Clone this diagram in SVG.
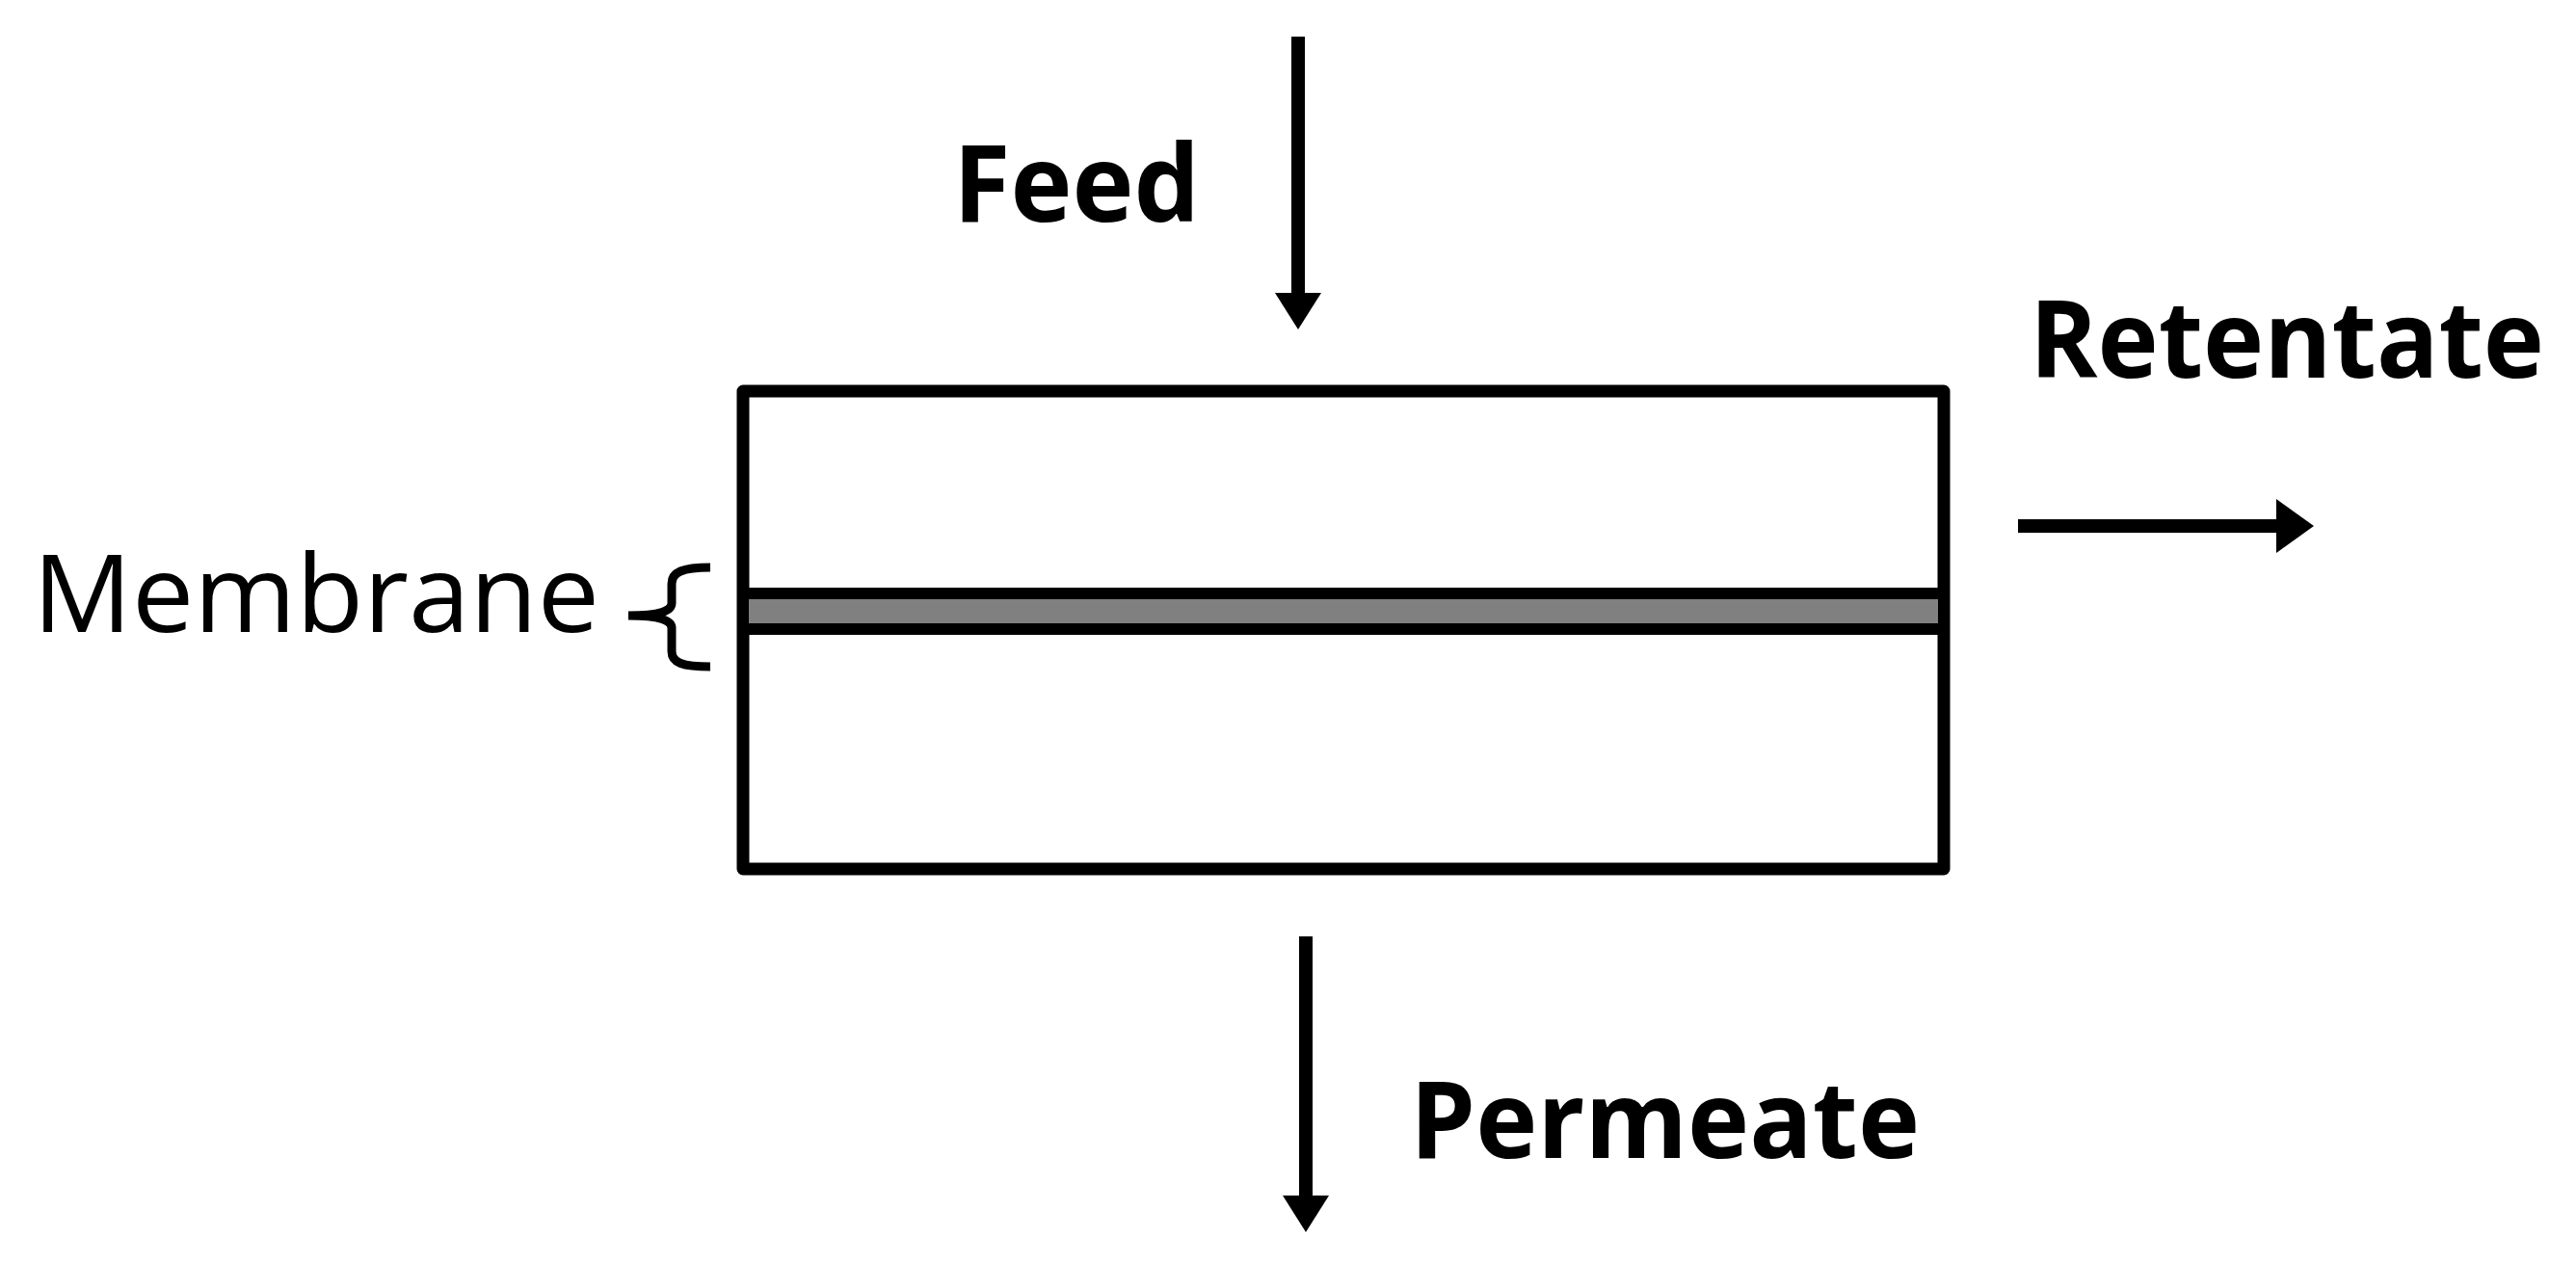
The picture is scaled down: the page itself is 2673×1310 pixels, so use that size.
<svg xmlns="http://www.w3.org/2000/svg" width="2673" height="1310" viewBox="0 0 2673 1310">
<style>
.lb{font-family:"Open Sans","Liberation Sans",sans-serif;font-weight:bold;font-size:112px;fill:#000}
.lr{font-family:"Open Sans","Liberation Sans",sans-serif;font-size:112px;fill:#000}
.sh{stroke:#000;stroke-width:14;fill:none}
</style>
<rect width="2673" height="1310" fill="#fff"/>
<g id="module">
<rect x="771" y="406" width="1246" height="496" fill="#fff" stroke="#000" stroke-width="13" stroke-linejoin="round"/>
</g>
<g id="membrane">
<rect x="771" y="616" width="1246" height="37" fill="#808080" stroke="#000" stroke-width="12"/>
<path d="M737,589 C708,589 697,594 697,606 L697,626 C697,634 685,639 652,639 C685,639 697,644 697,652 L697,676 C697,688 708,692 737,692" fill="none" stroke="#000" stroke-width="9"/>
<text class="lr" x="34" y="656" textLength="588" lengthAdjust="spacingAndGlyphs">Membrane</text>
</g>
<g id="labels">
<text class="lb" x="989" y="230" textLength="256" lengthAdjust="spacingAndGlyphs">Feed</text>
<text class="lb" x="2106" y="392" textLength="534" lengthAdjust="spacingAndGlyphs">Retentate</text>
<text class="lb" x="1463" y="1202" textLength="529" lengthAdjust="spacingAndGlyphs">Permeate</text>
</g>
<g id="connectors">
<line class="sh" x1="1347" y1="38" x2="1347" y2="306"/>
<polygon points="1323,304 1371,304 1347,342"/>
<line class="sh" x1="2094" y1="546" x2="2364" y2="546" stroke-width="18"/>
<polygon points="2362,518 2362,574 2401,546"/>
<line class="sh" x1="1355" y1="972" x2="1355" y2="1243"/>
<polygon points="1331,1241 1379,1241 1355,1279"/>
</g>
</svg>
